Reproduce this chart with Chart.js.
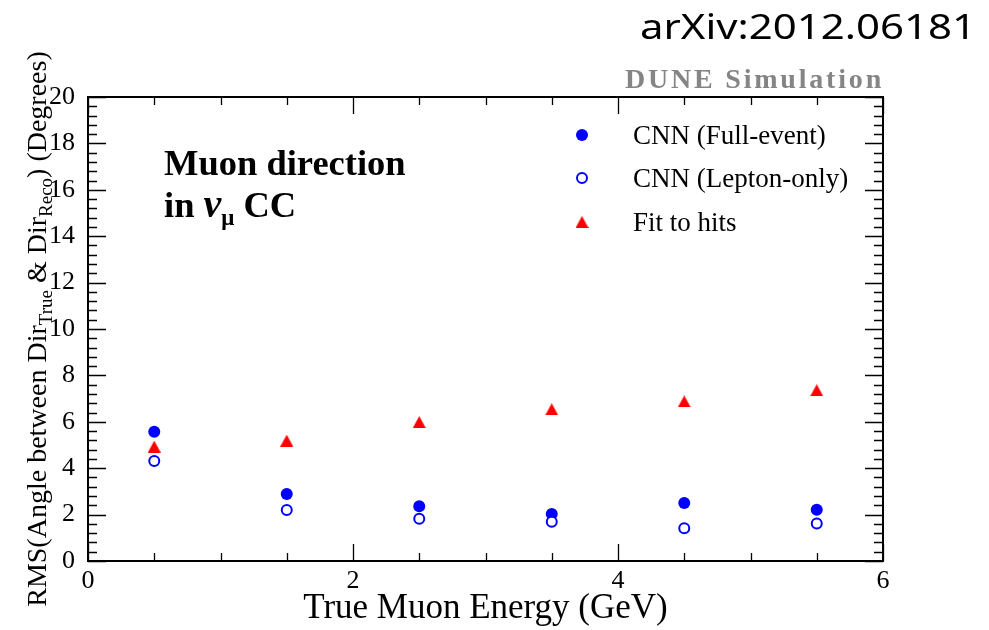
<!DOCTYPE html>
<html>
<head>
<meta charset="utf-8">
<script src="https://cdn.jsdelivr.net/npm/chart.js@4.4.1/dist/chart.umd.min.js"></script>
<style>
  body { margin: 0; background: #fff; }
</style>
</head>
<body>
<canvas id="rms-chart" width="989" height="630"></canvas>
<script>
// values
const energies = [0.5, 1.5, 2.5, 3.5, 4.5, 5.5];
const cnnFullEvent = [5.57, 2.89, 2.36, 2.03, 2.50, 2.21];
const cnnLeptonOnly = [4.31, 2.20, 1.82, 1.69, 1.41, 1.62];
const fitToHits = [4.93, 5.19, 5.99, 6.54, 6.88, 7.36];
const seriesLabels = ['CNN (Full-event)', 'CNN (Lepton-only)', 'Fit to hits'];
const xTickValues = [0, 2, 4, 6];
const yTickValues = [0, 2, 4, 6, 8, 10, 12, 14, 16, 18, 20];

const serif = "'Liberation Serif', 'DejaVu Serif', serif";
const blue = '#0000ff';
const red = '#ff0000';

function points(ys) {
    return energies.map((x, i) => ({ x: x, y: ys[i] }));
}

// ROOT style triangle: centred on its bounding box, not on its circumcentre
function makeTriangle(w, h, color) {
    const c = document.createElement('canvas');
    c.width = w;
    c.height = h;
    const g = c.getContext('2d');
    g.fillStyle = color;
    g.beginPath();
    g.moveTo(0, h);
    g.lineTo(w, h);
    g.lineTo(w / 2, 0);
    g.closePath();
    g.fill();
    return c;
}
const redTriangle = makeTriangle(13, 12, red);

// draws a run of text pieces (font / baseline shift) starting at x
function drawPieces(ctx, pieces, x, y) {
    pieces.forEach(p => {
        ctx.font = p.font;
        ctx.fillText(p.text, x, y + (p.dy || 0));
        x += ctx.measureText(p.text).width;
    });
}

function piecesWidth(ctx, pieces) {
    let w = 0;
    pieces.forEach(p => {
        ctx.font = p.font;
        w += ctx.measureText(p.text).width;
    });
    return w;
}

// frame with inward ticks on all four sides
const frameTicks = {
    id: 'frameTicks',
    beforeDatasetsDraw(chart) {
        const ctx = chart.ctx;
        const area = chart.chartArea;
        const xs = chart.scales.x;
        const ys = chart.scales.y;
        ctx.save();
        ctx.strokeStyle = '#000';
        ctx.lineWidth = 1.3;
        ctx.beginPath();
        for (let i = 0; i <= 12; i++) {
            const px = Math.round(xs.getPixelForValue(i * 0.5)) + 0.5;
            const len = i % 4 === 0 ? 17 : 8;
            ctx.moveTo(px, area.bottom);
            ctx.lineTo(px, area.bottom - len);
            ctx.moveTo(px, area.top);
            ctx.lineTo(px, area.top + len);
        }
        for (let i = 0; i <= 50; i++) {
            const py = Math.round(ys.getPixelForValue(i * 0.4)) + 0.5;
            const len = i % 5 === 0 ? 18 : 9;
            ctx.moveTo(area.left, py);
            ctx.lineTo(area.left + len, py);
            ctx.moveTo(area.right, py);
            ctx.lineTo(area.right - len, py);
        }
        ctx.stroke();
        ctx.lineWidth = 2;
        ctx.strokeRect(area.left, area.top, area.right - area.left, area.bottom - area.top);
        ctx.restore();
    }
};

// legend, titles and labels
const annotations = {
    id: 'annotations',
    afterDraw(chart) {
        const ctx = chart.ctx;
        ctx.save();
        ctx.fillStyle = '#000';
        ctx.textBaseline = 'alphabetic';

        // y axis title with subscripts
        const big = '28px ' + serif;
        const small = '19px ' + serif;
        const yTitle = [
            { text: 'RMS(Angle between Dir', font: big },
            { text: 'True', font: small, dy: 6 },
            { text: ' & Dir', font: big },
            { text: 'Reco', font: small, dy: 6 },
            { text: ') (Degrees)', font: big }
        ];
        ctx.save();
        ctx.translate(46, 329);
        ctx.rotate(-Math.PI / 2);
        drawPieces(ctx, yTitle, -piecesWidth(ctx, yTitle) / 2, 0);
        ctx.restore();

        // legend
        const rowY = [135, 178, 222];
        const markers = [
            { pointStyle: 'circle', radius: 6, borderWidth: 0, fill: blue, stroke: blue },
            { pointStyle: 'circle', radius: 5, borderWidth: 2, fill: '#fff', stroke: blue },
            { pointStyle: redTriangle, radius: 6, borderWidth: 0, fill: red, stroke: red }
        ];
        seriesLabels.forEach((label, i) => {
            const m = markers[i];
            ctx.fillStyle = m.fill;
            ctx.strokeStyle = m.stroke;
            ctx.lineWidth = m.borderWidth;
            Chart.helpers.drawPoint(ctx, { pointStyle: m.pointStyle, radius: m.radius, rotation: 0, borderWidth: m.borderWidth }, 582, rowY[i]);
            ctx.fillStyle = '#000';
            ctx.font = '27px ' + serif;
            ctx.fillText(label, 633, rowY[i] + 9);
        });

        // plot caption
        ctx.fillStyle = '#000';
        ctx.font = 'bold 36.5px ' + serif;
        ctx.fillText('Muon direction', 164, 175);
        drawPieces(ctx, [
            { text: 'in ', font: 'bold 36.5px ' + serif },
            { text: 'ν', font: 'italic bold 40px ' + serif },
            { text: 'μ', font: 'bold 23px ' + serif, dy: 8 },
            { text: ' CC', font: 'bold 36.5px ' + serif }
        ], 164, 217);

        // DUNE Simulation
        ctx.fillStyle = '#858585';
        ctx.font = 'bold 28px ' + serif;
        ctx.letterSpacing = '2.8px';
        ctx.textAlign = 'right';
        ctx.fillText('DUNE Simulation', 884, 88);
        ctx.letterSpacing = '0px';

        // arXiv number, the source text is wide so stretch it sideways
        const arxiv = 'arXiv:2012.06181';
        ctx.fillStyle = '#000';
        ctx.font = "34px 'Noto Sans', 'Open Sans', sans-serif";
        const stretch = 336 / ctx.measureText(arxiv).width;
        ctx.translate(976, 39);
        ctx.scale(stretch, 1);
        ctx.fillText(arxiv, 0, 0);
        ctx.restore();
    }
};

const chartContext = document.getElementById('rms-chart').getContext('2d');

const rmsChart = new Chart(chartContext, {
    type: 'scatter',
    data: {
        datasets: [{
            label: seriesLabels[0],
            data: points(cnnFullEvent),
            pointStyle: 'circle',
            pointRadius: 6,
            backgroundColor: blue,
            borderColor: blue,
            borderWidth: 0,
            order: 2
        }, {
            label: seriesLabels[1],
            data: points(cnnLeptonOnly),
            pointStyle: 'circle',
            pointRadius: 5,
            backgroundColor: '#fff',
            borderColor: blue,
            borderWidth: 2,
            order: 1
        }, {
            label: seriesLabels[2],
            data: points(fitToHits),
            pointStyle: redTriangle,
            pointRadius: 6,
            backgroundColor: red,
            borderColor: red,
            borderWidth: 0,
            order: 3
        }]
    },
    options: {
        responsive: false,
        animation: false,
        layout: { padding: { top: 97, right: 106, left: 0, bottom: 0 } },
        plugins: {
            legend: { display: false },
            tooltip: { enabled: false }
        },
        scales: {
            x: {
                type: 'linear',
                min: 0,
                max: 6,
                grid: { display: false },
                border: { display: false },
                ticks: { color: '#000', font: { family: serif, size: 26 }, padding: -3, maxRotation: 0 },
                title: {
                    display: true,
                    text: 'True Muon Energy (GeV)',
                    color: '#000',
                    font: { family: serif, size: 35 },
                    padding: { top: 0, bottom: 0 }
                },
                afterBuildTicks: s => { s.ticks = xTickValues.map(v => ({ value: v })); },
                afterFit: s => { s.height = 69; }
            },
            y: {
                min: 0,
                max: 20,
                grid: { display: false },
                border: { display: false },
                ticks: { color: '#000', font: { family: serif, size: 26 }, padding: 5 },
                afterBuildTicks: s => { s.ticks = yTickValues.map(v => ({ value: v })); },
                afterFit: s => { s.width = 88; }
            }
        }
    },
    plugins: [frameTicks, annotations]
});
</script>
</body>
</html>
